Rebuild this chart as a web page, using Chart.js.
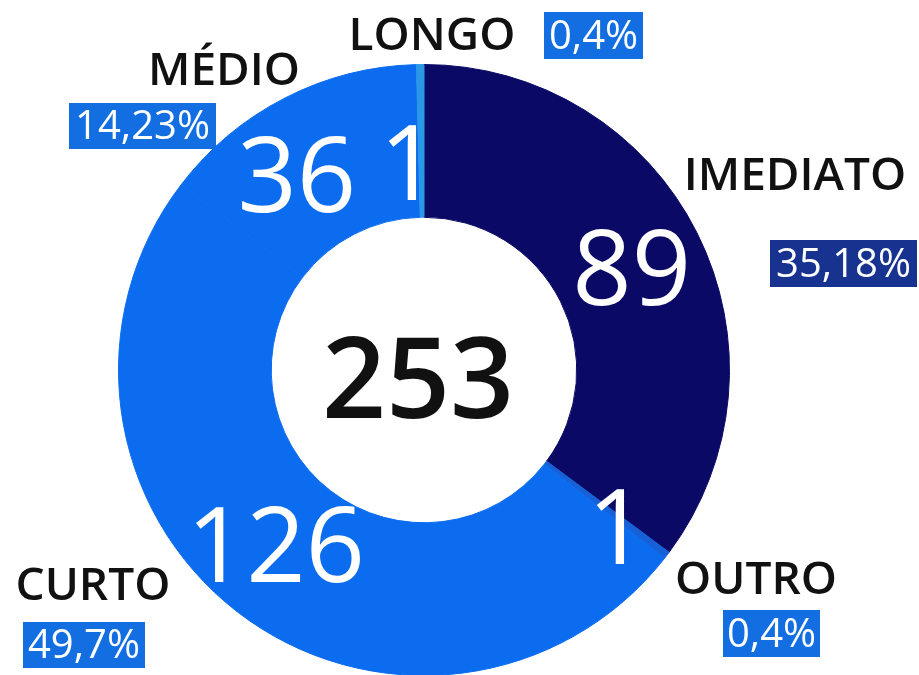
<!DOCTYPE html>
<html>
<head>
<meta charset="utf-8">
<script src="https://cdn.jsdelivr.net/npm/chart.js@4"></script>
<style>
  html, body { margin: 0; padding: 0; background: #fff; overflow: hidden; }
  #wrap { width: 919px; height: 700px; }
</style>
</head>
<body>
<div id="wrap"><canvas id="prazoChart" width="919" height="700"></canvas></div>
<script>
const categories = ["IMEDIATO", "OUTRO", "CURTO", "MÉDIO", "LONGO"];
const counts = [89, 1, 126, 36, 1];
const percentLabels = ["35,18%", "0,4%", "49,7%", "14,23%", "0,4%"];
const totalLabel = "253";

const sliceColors = ["#0a0a66", "#1761d8", "#0b6cf0", "#0b6cf0", "#2b98e6"];
const boxColors = ["#17328f", "#136ee2", "#136ee2", "#136ee2", "#136ee2"];

// where the category name and its percentage box sit around the ring
const namePos = [
  { x: 795, y: 190 },
  { x: 756, y: 594 },
  { x: 93, y: 600 },
  { x: 224, y: 85 },
  { x: 432, y: 50 },
];
const boxRects = [
  { x: 770, y: 240, w: 147, h: 47 },
  { x: 723, y: 610, w: 97, h: 47 },
  { x: 23, y: 622, w: 122, h: 46 },
  { x: 69, y: 103, w: 147, h: 46 },
  { x: 544, y: 12, w: 99, h: 47 },
];
// small shifts for the numbers drawn inside each slice
const numberNudge = [
  { dx: 3, dy: 1 },
  { dx: 11, dy: 18 },
  { dx: -8, dy: -6 },
  { dx: -23, dy: 9 },
  { dx: -12, dy: 22 },
];

const FONT = '"Open Sans", "Noto Sans", sans-serif';

const ringLabels = {
  id: "ringLabels",
  afterDatasetsDraw(chart) {
    const ctx = chart.ctx;
    const arcs = chart.getDatasetMeta(0).data;
    ctx.save();

    // values inside the slices
    ctx.fillStyle = "#ffffff";
    ctx.font = "500 104px " + FONT;
    ctx.textAlign = "center";
    ctx.textBaseline = "alphabetic";
    arcs.forEach((arc, i) => {
      const p = arc.tooltipPosition();
      const n = numberNudge[i];
      ctx.fillText(String(counts[i]), p.x + n.dx, p.y + n.dy + 104 * 0.357);
    });

    // total in the hole
    const c = arcs[0];
    ctx.fillStyle = "#111111";
    ctx.font = "600 112px " + FONT;
    ctx.fillText(totalLabel, c.x - 6, c.y + 48);

    // category names
    ctx.font = "600 46px " + FONT;
    categories.forEach((name, i) => {
      ctx.fillStyle = "#111111";
      ctx.fillText(name, namePos[i].x, namePos[i].y);
    });

    // percentage boxes
    ctx.font = "40px " + FONT;
    ctx.textBaseline = "middle";
    percentLabels.forEach((txt, i) => {
      const b = boxRects[i];
      ctx.fillStyle = boxColors[i];
      ctx.fillRect(b.x, b.y, b.w, b.h);
      ctx.fillStyle = "#ffffff";
      ctx.fillText(txt, b.x + b.w / 2, b.y + b.h / 2 + 2);
    });

    ctx.restore();
  },
};

new Chart(document.getElementById("prazoChart"), {
  type: "doughnut",
  data: {
    labels: categories,
    datasets: [
      {
        data: counts,
        backgroundColor: sliceColors,
        borderColor: sliceColors,
        borderWidth: 1,
        hoverOffset: 0,
        offset: 0,
      },
    ],
  },
  options: {
    responsive: false,
    animation: false,
    events: [],
    cutout: "50%",
    layout: {
      padding: { left: 118, right: 189, top: 64, bottom: 24 },
    },
    plugins: {
      legend: { display: false },
      tooltip: { enabled: false },
    },
  },
  plugins: [ringLabels],
});
</script>
</body>
</html>
